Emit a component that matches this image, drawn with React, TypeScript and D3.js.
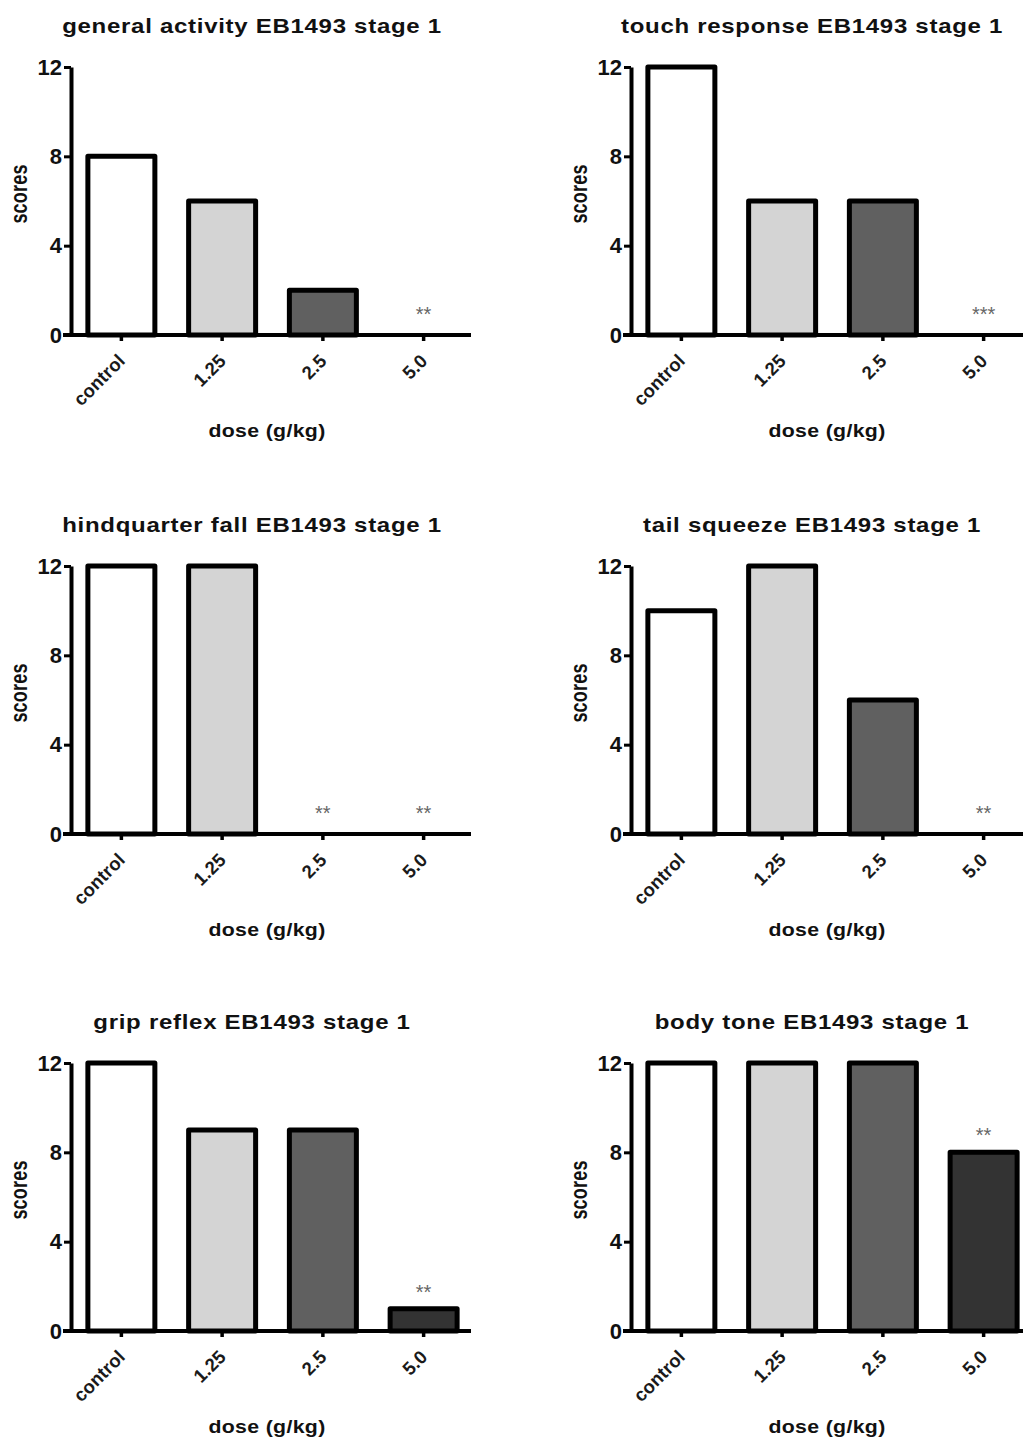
import { useEffect, useRef } from 'react';
import { axisBottom, axisLeft, scaleBand, scaleLinear, select } from 'd3';

// dose groups on the x axis
const doses = ['control', '1.25', '2.5', '5.0'];
const barColors = ['#ffffff', '#d4d4d4', '#606060', '#333333'];
const yTicks = [0, 4, 8, 12];

const titles = [
  'general activity EB1493 stage 1',
  'touch response EB1493 stage 1',
  'hindquarter fall EB1493 stage 1',
  'tail squeeze EB1493 stage 1',
  'grip reflex EB1493 stage 1',
  'body tone EB1493 stage 1',
];

const generalActivity = [8, 6, 2, 0];
const touchResponse = [12, 6, 6, 0];
const hindquarterFall = [12, 12, 0, 0];
const tailSqueeze = [10, 12, 6, 0];
const gripReflex = [12, 9, 9, 1];
const bodyTone = [12, 12, 12, 8];

const generalActivityStars = ['', '', '', '**'];
const touchResponseStars = ['', '', '', '***'];
const hindquarterFallStars = ['', '', '**', '**'];
const tailSqueezeStars = ['', '', '', '**'];
const gripReflexStars = ['', '', '', '**'];
const bodyToneStars = ['', '', '', '**'];

const panelValues = [generalActivity, touchResponse, hindquarterFall, tailSqueeze, gripReflex, bodyTone];
const panelStars = [generalActivityStars, touchResponseStars, hindquarterFallStars, tailSqueezeStars, gripReflexStars, bodyToneStars];

const colX = [0, 560];
const rowY = [0, 499, 996];

const font = 'Arial, "Liberation Sans", sans-serif';
const narrow = '"Liberation Sans Narrow", "Arial Narrow", Arial, "Liberation Sans", sans-serif';

function Panel({ title, values, stars, dx, dy }: { title: string; values: number[]; stars: string[]; dx: number; dy: number }) {
  const xRef = useRef<SVGGElement>(null);
  const yRef = useRef<SVGGElement>(null);

  const xScale = scaleBand().domain(doses).range([71, 474]).paddingInner(0.335).paddingOuter(0.1675);
  const yScale = scaleLinear().domain([0, 12]).range([335, 67]);

  useEffect(() => {
    const gy = select(yRef.current);
    gy.call(axisLeft(yScale).tickValues(yTicks).tickSize(7).tickSizeOuter(0).tickPadding(2));
    gy.select('.domain').attr('stroke', '#000').attr('stroke-width', 4);
    gy.selectAll('.tick line').attr('stroke', '#000').attr('stroke-width', 3);
    gy.selectAll('.tick text')
      .attr('fill', '#111')
      .style('font-family', narrow)
      .style('font-weight', 'bold')
      .style('font-size', '22px');

    const gx = select(xRef.current);
    gx.call(axisBottom(xScale).tickSize(6).tickSizeOuter(0));
    gx.select('.domain').remove();
    gx.selectAll('.tick line').attr('stroke', '#000').attr('stroke-width', 3.5);
    gx.selectAll('.tick text')
      .attr('fill', '#1a1a1a')
      .attr('text-anchor', 'end')
      .attr('x', 0)
      .attr('y', 0)
      .attr('dy', 0)
      .attr('transform', 'translate(5,27) rotate(-45) scale(1.08,1.1)')
      .style('font-family', font)
      .style('font-weight', 'bold')
      .style('font-size', '17px')
      .style('letter-spacing', '0.2px');
  }, []);

  return (
    <g transform={`translate(${dx},${dy})`}>
      <text transform="translate(252,33) scale(1.2,1)" textAnchor="middle" fontFamily={font} fontWeight="bold" fontSize={20} letterSpacing={0.6} fill="#111">
        {title}
      </text>
      {values.map((v, i) =>
        v > 0 ? (
          <rect
            key={i}
            x={xScale(doses[i])}
            y={yScale(v)}
            width={xScale.bandwidth()}
            height={yScale(0) - yScale(v)}
            fill={barColors[i]}
            stroke="#000"
            strokeWidth={5}
            strokeLinejoin="round"
          />
        ) : null
      )}
      {stars.map((s, i) =>
        s ? (
          <text key={'s' + i} x={(xScale(doses[i]) ?? 0) + xScale.bandwidth() / 2} y={yScale(values[i]) - (values[i] > 0 ? 10 : 14)}
            textAnchor="middle" fontFamily={font} fontSize={20} fill="#666">
            {s}
          </text>
        ) : null
      )}
      <g ref={xRef} transform={`translate(0,${yScale(0)})`} />
      <line x1={63} x2={471} y1={yScale(0)} y2={yScale(0)} stroke="#000" strokeWidth={4} />
      <g ref={yRef} transform="translate(71,0)" />
      <text transform="translate(27,194) rotate(-90) scale(1,1.3)" textAnchor="middle"
        fontFamily={font} fontWeight="bold" fontSize={18} letterSpacing={0.2} fill="#111">
        scores
      </text>
      <text transform="translate(267,437) scale(1.12,1)" textAnchor="middle" fontFamily={font} fontWeight="bold" fontSize={19} letterSpacing={0.3} fill="#111">
        dose (g/kg)
      </text>
    </g>
  );
}

export default function App() {
  return (
    <svg width={1023} height={1439} style={{ position: 'absolute', left: 0, top: 0, background: '#fff' }}>
      <rect width={1023} height={1439} fill="#fff" />
      {titles.map((t, i) => (
        <Panel key={i} title={t} values={panelValues[i]} stars={panelStars[i]} dx={colX[i % 2]} dy={rowY[Math.floor(i / 2)]} />
      ))}
    </svg>
  );
}
